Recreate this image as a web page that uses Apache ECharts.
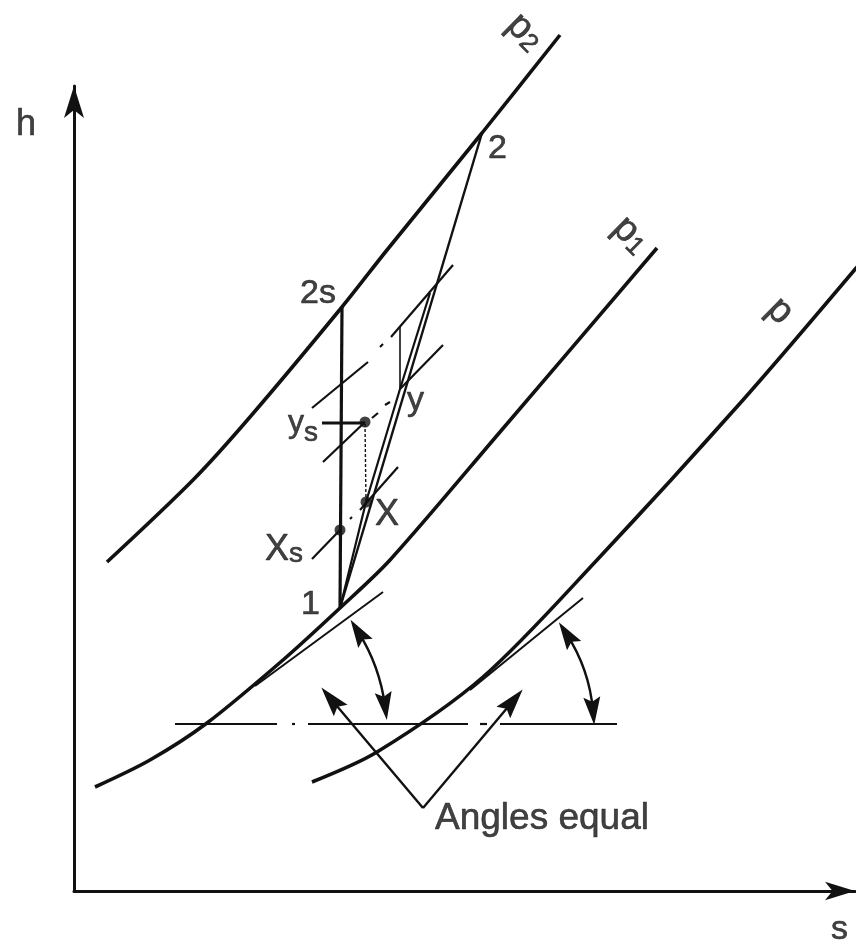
<!DOCTYPE html>
<html>
<head>
<meta charset="utf-8">
<script src="https://cdn.jsdelivr.net/npm/echarts@6/dist/echarts.min.js"></script>
<style>
  html, body { margin: 0; padding: 0; background: #fff; }
  #main { width: 856px; height: 942px; }
</style>
</head>
<body>
<div id="main"></div>
<script>
// h-s diagram of a compression 1 -> 2, values in diagram units [s, h]
var isobarP2 = [[33, 329], [119, 411], [176, 474], [268, 584], [313, 641], [408, 758], [486, 856]];
var isobarP1 = [[21, 104], [76, 131], [133, 168], [209, 231], [266, 283], [316, 331], [426, 459], [583, 643]];
var isobarP = [[238, 109], [303, 139], [409, 214], [523, 331], [669, 491], [783, 624]];

var tangentP1 = [[181, 205], [309, 299]];
var tangentP = [[396, 201], [509, 293]];

// dash-dot horizontal reference line
var datumH = 167;
var datumPieces = [[101, 203], [218, 221], [234, 394], [406, 413], [426, 543]];

// states
var state1 = [266, 283];
var state2s = [268, 584];
var state2 = [408, 758];
var stateX = [292, 389];
var stateXs = [266, 361];
var stateY = [326, 502];
var stateYs = [291, 469];
var stateNext = [356, 598];
var yTop = [326, 564];

// short constant pressure lines (pieces of dash-dot)
var isoX = [[[238, 332], [266, 361]], [[276, 372], [278, 374]], [[286, 381], [324, 424]]];
var isoY = [[[249, 429], [291, 469]], [[298, 473], [304, 478]], [[311, 486], [316, 489]], [[326, 502], [369, 546]]];
var isoTop = [[[238, 483], [294, 529]], [[306, 544], [309, 547]], [[317, 554], [379, 626]]];
var ysLeader = [[248, 468], [291, 468]];

// angle arrows
var angleArcs = [
  { from: [284, 259.5], to: [311, 185], bend: 0.11 },
  { from: [492.5, 257], to: [519, 180], bend: 0.125 }
];
var pointerBase = [349, 83];
var pointerTips = [[257, 192], [439, 190]];

var INK = '#111';
var FONT = 'Liberation Sans';
var HEAD_PATH = 'path://M0,0 L9,30 L0,25 L-9,30 Z';
var HEAD = [17, 28];

function line(data, width, extra) {
  var s = {
    type: 'line',
    data: data,
    showSymbol: false,
    clip: false,
    silent: true,
    lineStyle: { color: INK, width: width }
  };
  for (var k in extra) s[k] = extra[k];
  return s;
}

var series = [];
series.push(line(isobarP2, 3.6, { smooth: 0.3 }));
series.push(line(isobarP1, 3.6, { smooth: 0.3 }));
series.push(line(isobarP, 3.6, { smooth: 0.3 }));
series.push(line(tangentP1, 2));
series.push(line(tangentP, 2));
datumPieces.forEach(function (r) {
  series.push(line([[r[0], datumH], [r[1], datumH]], 2.2));
});
series.push(line([state1, state2s], 3.2));
series.push(line([state1, state2], 2.4));
series.push(line([state1, stateX, stateY, stateNext], 2.2));
series.push(line([stateX, stateYs], 1.4, { lineStyle: { color: INK, width: 1.4, type: [3, 2] } }));
series.push(line([stateY, yTop], 1.6));
series.push(line(ysLeader, 3));
[isoX, isoY, isoTop].forEach(function (pieces) {
  pieces.forEach(function (p) { series.push(line(p, 2.2)); });
});

series.push({
  type: 'scatter',
  data: [stateXs, stateX, stateYs],
  symbolSize: 11,
  clip: false,
  silent: true,
  itemStyle: { color: INK }
});

series.push({
  type: 'lines',
  coordinateSystem: 'cartesian2d',
  silent: true,
  symbol: [HEAD_PATH, HEAD_PATH],
  symbolSize: [HEAD, HEAD],
  lineStyle: { color: INK, width: 2.4, opacity: 1 },
  data: angleArcs.map(function (a) {
    return { coords: [a.from, a.to], lineStyle: { curveness: a.bend } };
  })
});
series.push({
  type: 'lines',
  coordinateSystem: 'cartesian2d',
  silent: true,
  symbol: ['none', HEAD_PATH],
  symbolSize: [HEAD, [18, 30]],
  lineStyle: { color: INK, width: 2.4, opacity: 1 },
  data: pointerTips.map(function (t) { return { coords: [pointerBase, t] }; })
});

// text annotations
function tok(size, lh, extra) {
  var t = { fontFamily: FONT, fontSize: size, lineHeight: lh, color: INK, textBorderColor: INK, textBorderWidth: 0.6 };
  for (var k in extra) t[k] = extra[k];
  return t;
}
var rich = {
  m: tok(34, 34),
  pp: tok(38, 38),
  big: tok(36, 36),
  yy: tok(32, 48),
  sub: tok(28, 12, { verticalAlign: 'bottom' }),
  sub2: tok(28, 11, { verticalAlign: 'bottom' }),
  psub: tok(26, 18, { verticalAlign: 'bottom' })
};
var notes = [
  { at: [-58, 766], text: '{big|h}', align: 'left' },
  { at: [757, -39], text: '{m|s}', align: 'left' },
  { at: [451, 859], text: '{pp|p}{psub|2}', align: 'center', rotate: -45 },
  { at: [557, 656], text: '{pp|p}{psub|1}', align: 'center', rotate: -45 },
  { at: [706, 580], text: '{pp|p}', align: 'center', rotate: -45 },
  { at: [414, 742], text: '{m|2}', align: 'left' },
  { at: [226, 597], text: '{m|2s}', align: 'left' },
  { at: [227, 286], text: '{m|1}', align: 'left' },
  { at: [301, 376], text: '{big|X}', align: 'left' },
  { at: [191, 341], text: '{big|X}{sub|s}', align: 'left' },
  { at: [333, 490], text: '{m|y}', align: 'left' },
  { at: [214, 468], text: '{yy|y}{sub2|s}', align: 'left' },
  { at: [361, 72], text: '{ae|Angles equal}', align: 'left' }
];
rich.ae = tok(37, 37);

series.push({
  type: 'scatter',
  symbolSize: 0,
  clip: false,
  silent: true,
  data: notes.map(function (n) {
    return {
      value: n.at,
      label: {
        show: true,
        position: 'inside',
        align: n.align,
        verticalAlign: 'middle',
        rotate: n.rotate || 0,
        formatter: n.text,
        fontFamily: FONT,
        fontSize: 34,
        color: INK,
        rich: rich
      }
    };
  })
});

var chart = echarts.init(document.getElementById('main'), null, { renderer: 'canvas' });
chart.setOption({
  animation: false,
  backgroundColor: '#fff',
  grid: { left: 74, right: 1, top: 86, bottom: 51 },
  xAxis: {
    type: 'value', min: 0, max: 781,
    axisLine: { show: true, symbol: ['none', 'arrow'], symbolSize: [14, 30], lineStyle: { color: INK, width: 3 } },
    axisTick: { show: false }, axisLabel: { show: false }, splitLine: { show: false }
  },
  yAxis: {
    type: 'value', min: 0, max: 805,
    axisLine: { show: true, symbol: ['none', 'arrow'], symbolSize: [15, 32], lineStyle: { color: INK, width: 3 } },
    axisTick: { show: false }, axisLabel: { show: false }, splitLine: { show: false }
  },
  series: series
});
</script>
</body>
</html>
